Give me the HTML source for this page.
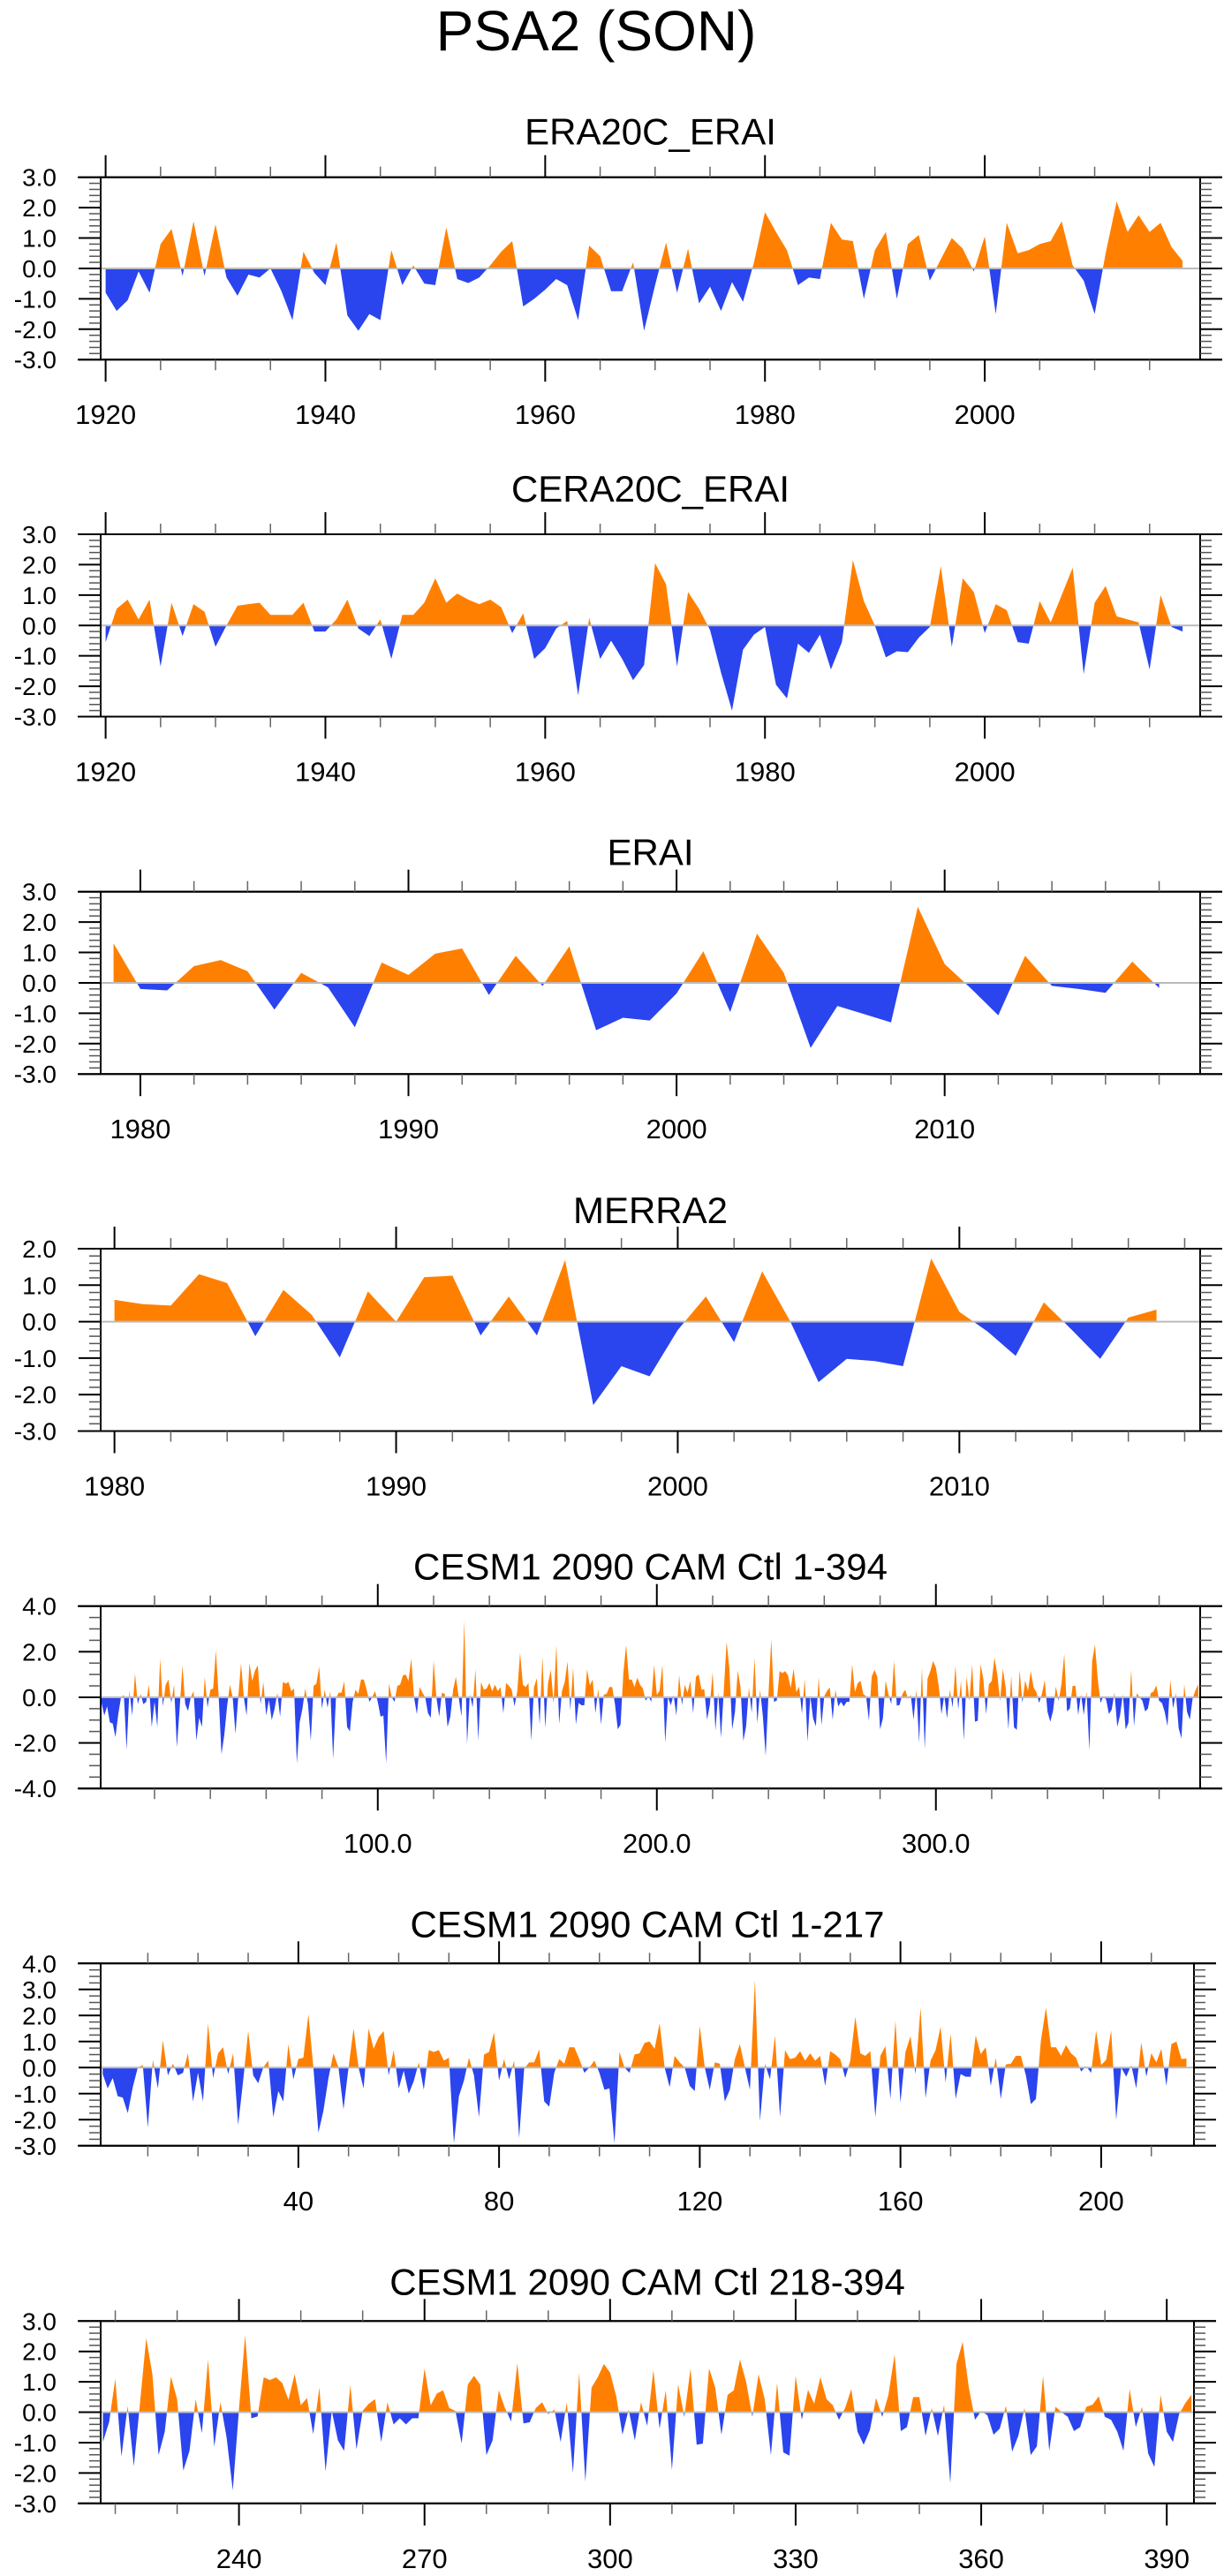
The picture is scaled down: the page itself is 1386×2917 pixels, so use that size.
<!DOCTYPE html>
<html><head><meta charset="utf-8"><title>PSA2 (SON)</title>
<style>
html,body{margin:0;padding:0;background:#fff;}
svg{display:block;font-family:"Liberation Sans",Arial,sans-serif;}
</style></head>
<body>
<svg id="chart" width="1386" height="2917" viewBox="0 0 1386 2917" xmlns="http://www.w3.org/2000/svg">
<text x="675" y="57" font-size="64" text-anchor="middle">PSA2 (SON)</text>
</svg>
<script>
// ---- data ----
const era20cYears = [];
for (let y = 1920; y <= 2018; y++) era20cYears.push(y);
const era20cValues = [-0.8,-1.4,-1.05,-0.1,-0.8,0.8,1.3,-0.25,1.55,-0.25,1.45,-0.3,-0.9,-0.2,-0.3,0.0,-0.75,-1.7,0.55,-0.15,-0.55,0.85,-1.55,-2.05,-1.5,-1.7,0.6,-0.55,0.1,-0.5,-0.55,1.35,-0.35,-0.48,-0.3,0.1,0.55,0.9,-1.25,-1.0,-0.7,-0.35,-0.55,-1.7,0.75,0.4,-0.75,-0.75,0.2,-2.05,-0.55,0.85,-0.8,0.65,-1.15,-0.6,-1.4,-0.45,-1.1,0.2,1.85,1.2,0.6,-0.55,-0.3,-0.35,1.5,0.95,0.9,-1.0,0.6,1.2,-1.0,0.8,1.1,-0.4,0.3,1.0,0.65,-0.1,1.05,-1.5,1.5,0.5,0.6,0.8,0.9,1.55,0.1,-0.4,-1.5,0.5,2.2,1.2,1.75,1.2,1.5,0.7,0.25];
const cera20cValues = [-0.55,0.55,0.85,0.2,0.85,-1.35,0.75,-0.35,0.7,0.45,-0.7,0.0,0.65,0.7,0.75,0.35,0.35,0.35,0.75,-0.2,-0.2,0.2,0.85,-0.1,-0.35,0.2,-1.1,0.35,0.35,0.75,1.55,0.75,1.05,0.85,0.7,0.85,0.6,-0.25,0.4,-1.1,-0.75,-0.1,0.15,-2.3,0.25,-1.1,-0.5,-1.1,-1.8,-1.3,2.05,1.35,-1.35,1.1,0.55,-0.15,-1.55,-2.8,-0.8,-0.3,-0.05,-1.95,-2.4,-0.6,-0.9,-0.3,-1.45,-0.55,2.15,0.8,0.0,-1.05,-0.85,-0.88,-0.4,-0.05,1.95,-0.7,1.55,1.1,-0.25,0.7,0.5,-0.55,-0.6,0.8,0.1,1.0,1.9,-1.6,0.75,1.3,0.3,0.2,0.1,-1.45,1.0,-0.05,-0.2];
const eraiYears = [];
for (let y = 1979; y <= 2018; y++) eraiYears.push(y);
const eraiValues = [1.3,-0.2,-0.25,0.55,0.75,0.38,-0.88,0.33,-0.15,-1.46,0.67,0.26,0.96,1.13,-0.4,0.89,-0.1,1.2,-1.56,-1.15,-1.24,-0.35,1.04,-0.96,1.62,0.33,-2.14,-0.76,-1.03,-1.3,2.5,0.62,-0.2,-1.07,0.89,-0.1,-0.2,-0.33,0.7,-0.17];
const merraYears = [];
for (let y = 1980; y <= 2017; y++) merraYears.push(y);
const merraValues = [0.6,0.48,0.44,1.3,1.06,-0.4,0.87,0.19,-0.98,0.83,0.0,1.22,1.26,-0.38,0.69,-0.38,1.69,-2.29,-1.22,-1.5,-0.23,0.69,-0.56,1.38,0.0,-1.66,-1.02,-1.08,-1.22,1.73,0.27,-0.27,-0.94,0.53,-0.23,-1.02,0.11,0.33];
const cesmValues = [
-0.25,-0.8,-0.4,-1.1,-1.15,-1.75,-0.75,0,0.1,-2.3,
0.3,-0.8,1.05,-0.3,0.15,-0.3,-0.2,0.55,-1.3,-0.2,
-1.3,1.7,-0.4,0.55,0.78,-0.25,0.55,-2.2,-0.5,1.4,
-0.3,-0.6,0,0.27,-1.9,-0.9,-1.3,0.9,-0.45,0.33,
0.38,2.05,0,-2.5,-1.65,-0.4,0.55,0,-1.6,0,
1.5,0,-0.8,1.5,0.72,1.17,1.4,-0.3,0.67,-0.8,
-0.12,-1.0,-0.52,0.2,-0.85,0.67,0.6,0.67,0.27,0.38,
-2.9,-1.1,-0.5,0.38,-0.3,-1.9,0.5,0.6,1.35,-0.5,
0.33,-0.45,0.27,-2.7,-0.05,0.2,0.2,0.7,-1.3,-1.5,
-0.2,0.33,0.15,0.78,0.78,0.33,-0.2,0,0.27,-0.2,
-0.85,-0.8,-2.9,0.6,0,-0.2,0.5,0.55,0.95,1.0,
0.72,1.7,0,-0.75,0.45,0.2,0,-0.7,-0.9,1.6,
0,-0.85,0.2,0.15,-1.3,-0.85,0.33,0.9,0,-0.85,
3.37,-2.05,0.15,-0.45,1.23,-1.9,0.67,0.33,0.38,0.63,
0.27,0.55,0.27,0.45,-0.7,0.63,0.5,0.33,-0.4,0.27,
1.95,0.55,0.45,0.63,-1.9,0.45,0.83,-1.2,1.8,-1.35,
0.6,1.2,-0.25,2.3,-1.17,0.27,0.67,1.57,-0.57,1.3,
-1.2,-0.25,-0.35,-0.35,1.23,0.52,0.78,-0.7,0.38,-1.2,
0.12,0.15,0.45,0.45,-0.3,-1.4,-1.2,1.05,2.3,0.78,
0.78,0.45,0.86,0.55,0.38,-0.15,0.05,-0.2,1.42,0.1,
0.3,1.42,-2.0,0,-0.35,0.1,-0.8,0.97,-0.35,0.55,
0.2,0.72,-0.7,0.9,1.0,0.33,0.35,
-0.98,-0.33,1.1,-1.46,0.21,-1.78,0.3,2.44,1.25,-1.41,
-0.64,1.17,0.43,-1.92,-1.27,0.43,-0.69,1.73,-1.14,0.33,
-0.83,-2.57,0.1,2.54,-0.2,-0.14,1.15,1.06,1.15,0.96,
0.41,1.25,0.23,0.47,-0.72,0.81,-1.95,0.05,-0.93,-1.27,
0.89,-1.22,0.05,0.28,0.43,-0.98,0.33,-0.4,-0.2,-0.4,
-0.2,-0.2,1.44,0.23,0.62,0.72,0.14,0.04,-1.03,0.91,
1.2,0.91,-1.41,-0.93,0.72,0.14,-0.3,1.61,-0.37,-0.33,
0.14,0.33,-0.06,0.09,-0.98,0.33,-2.0,1.3,-2.28,0.81,
1.15,1.59,1.3,0.52,-0.74,0.09,-0.93,0.33,-0.45,1.39,
-0.54,0.72,-1.9,0.91,-0.15,1.44,-1.07,-1.03,1.44,0.81,
-0.74,0.57,0.72,1.73,1.0,-0.15,1.25,0.43,-1.41,0.96,
-1.32,-1.43,1.2,-0.25,0.74,0.28,1.15,0.43,0.23,-0.25,
0.14,0.76,-0.64,-1.07,-0.59,0.47,-0.15,0.57,1.9,-0.62,
-0.49,0.5,0.5,-0.78,0.14,-0.78,0.25,-2.33,1.59,2.31,
0.81,-0.25,0.04,-0.1,-0.74,-0.54,0.21,-1.3,-0.78,0.14,
-1.41,-1.12,1.2,-1.27,0.18,0,-0.15,-0.62,-0.49,0.18,
0.25,0.52,-0.15,-0.25,-0.64,-1.27,0.76,-0.49,0.18,-1.36,
-1.8,0.57,-0.64,-0.98,-0.06,0.3,0.57];
const cesmIndex = cesmValues.map((v, i) => i + 1);
const cesmA = cesmValues.slice(0, 217), cesmAIdx = cesmIndex.slice(0, 217);
const cesmB = cesmValues.slice(217), cesmBIdx = cesmIndex.slice(217);

const yTicks3 = ["3.0","2.0","1.0","0.0","-1.0","-2.0","-3.0"];
const yTicksM = ["2.0","1.0","0.0","-1.0","-2.0","-3.0"];
const yTicks5 = ["4.0","2.0","0.0","-2.0","-4.0"];
const yTicks6 = ["4.0","3.0","2.0","1.0","0.0","-1.0","-2.0","-3.0"];

const NS = "http://www.w3.org/2000/svg";
const svg = document.getElementById('chart');
function mk(tag, attrs, parent) {
  const e = document.createElementNS(NS, tag);
  for (const k in attrs) e.setAttribute(k, attrs[k]);
  (parent || svg).appendChild(e);
  return e;
}
const ORANGE = "#ff8000", BLUE = "#2a44ee";

function panel(p) {
  const g = mk('g', {});
  
  
  const L = 114, R = p.right, T = p.top, B = p.top + 206.5;
  const xs = v => L + (v - p.xmin) / (p.xmax - p.xmin) * (R - L);
  const ys = v => T + (p.ymax - v) / (p.ymax - p.ymin) * (B - T);
  const id = p.name;
  // clips
  const defs = mk('defs', {}, g);
  const c1 = mk('clipPath', {id: id + '-pos'}, defs);
  mk('rect', {x: L, y: T, width: R - L, height: ys(0) - T}, c1);
  const c2 = mk('clipPath', {id: id + '-neg'}, defs);
  mk('rect', {x: L, y: ys(0), width: R - L, height: B - ys(0)}, c2);
  let pts = xs(p.x[0]) + ',' + ys(0) + ' ';
  for (let i = 0; i < p.x.length; i++) pts += xs(p.x[i]).toFixed(2) + ',' + ys(p.y[i]).toFixed(2) + ' ';
  pts += xs(p.x[p.x.length - 1]) + ',' + ys(0);
  const pos = mk('polygon', {points: pts, fill: ORANGE, 'clip-path': 'url(#' + id + '-pos)'}, g);
  
  
  const neg = mk('polygon', {points: pts, fill: BLUE, 'clip-path': 'url(#' + id + '-neg)'}, g);
  
  
  // zero line
  const z = mk('line', {x1: L, x2: R, y1: ys(0), y2: ys(0), stroke: '#bbbbbb', 'stroke-width': 2}, g);
  
  
  // frame
  const fr = mk('rect', {x: L, y: T, width: R - L, height: B - T, fill: 'none', stroke: '#000', 'stroke-width': 2}, g);
  
  
  mk('line', {x1: 88, x2: R + 25, y1: T, y2: T, stroke: '#000', 'stroke-width': 2}, g);
  mk('line', {x1: 88, x2: R + 25, y1: B, y2: B, stroke: '#000', 'stroke-width': 2}, g);
  // y ticks
  for (let v = p.ymin; v <= p.ymax + 1e-6; v += p.yminor) {
    const yy = ys(v);
    const major = Math.abs(v / p.ymajor - Math.round(v / p.ymajor)) < 1e-6;
    const len = major ? 25 : 13;
    mk('line', {x1: L - len, x2: L, y1: yy, y2: yy, stroke: major ? '#000' : '#555', 'stroke-width': major ? 2 : 1.5}, g);
    mk('line', {x1: R, x2: R + len, y1: yy, y2: yy, stroke: major ? '#000' : '#555', 'stroke-width': major ? 2 : 1.5}, g);
  }
  p.ylabels.forEach((s, i) => {
    const v = p.ymax - i * p.ymajor;
    const t = mk('text', {x: 64, y: ys(v) + 10, 'font-size': 28, 'text-anchor': 'end'}, g);
    
    
    t.textContent = s;
  });
  // x ticks
  const start = Math.ceil(p.xmin / p.xminor) * p.xminor;
  for (let v = start; v <= p.xmax; v += p.xminor) {
    const xx = xs(v);
    const major = Math.abs(v / p.xmajor - Math.round(v / p.xmajor)) < 1e-6;
    const len = major ? 25 : 12;
    mk('line', {x1: xx, x2: xx, y1: T - len, y2: T, stroke: major ? '#000' : '#666', 'stroke-width': major ? 2 : 1.5}, g);
    mk('line', {x1: xx, x2: xx, y1: B, y2: B + len, stroke: major ? '#000' : '#666', 'stroke-width': major ? 2 : 1.5}, g);
    if (major) {
      const t = mk('text', {x: xx, y: B + 73, 'font-size': 31, 'text-anchor': 'middle'}, g);
      
      
      t.textContent = p.xfmt ? p.xfmt(v) : String(v);
    }
  }
  const tt = mk('text', {x: (L + R) / 2, y: T - p.titleGap, 'font-size': 42, 'text-anchor': 'middle'}, g);
  
  
  tt.textContent = p.title;
}

panel({name:'era20c-erai-panel', title:'ERA20C_ERAI', top:200.7, right:1359, titleGap:37, xmin:1919.55, xmax:2019.6, ymin:-3, ymax:3, ymajor:1, yminor:0.2, xmajor:20, xminor:5, x:era20cYears, y:era20cValues, ylabels:yTicks3});
panel({name:'cera20c-erai-panel', title:'CERA20C_ERAI', top:605, right:1359, titleGap:37, xmin:1919.55, xmax:2019.6, ymin:-3, ymax:3, ymajor:1, yminor:0.2, xmajor:20, xminor:5, x:era20cYears, y:cera20cValues, ylabels:yTicks3});
panel({name:'erai-panel', title:'ERAI', top:1009.7, right:1359, titleGap:30, xmin:1978.52, xmax:2019.53, ymin:-3, ymax:3, ymajor:1, yminor:0.2, xmajor:10, xminor:2, x:eraiYears, y:eraiValues, ylabels:yTicks3});
panel({name:'merra2-panel', title:'MERRA2', top:1414, right:1359, titleGap:29, xmin:1979.51, xmax:2018.55, ymin:-3, ymax:2, ymajor:1, yminor:0.2, xmajor:10, xminor:2, x:merraYears, y:merraValues, ylabels:yTicksM});
panel({name:'cesm-1-394-panel', title:'CESM1 2090 CAM Ctl 1-394', top:1818.7, right:1359, titleGap:30, xmin:0.7, xmax:394.7, ymin:-4, ymax:4, ymajor:2, yminor:0.5, xmajor:100, xminor:20, x:cesmIndex, y:cesmValues, ylabels:yTicks5, xfmt:v=>v.toFixed(1)});
panel({name:'cesm-1-217-panel', title:'CESM1 2090 CAM Ctl 1-217', top:2223.3, right:1352, titleGap:30, xmin:0.6, xmax:218.5, ymin:-3, ymax:4, ymajor:1, yminor:0.25, xmajor:40, xminor:10, x:cesmAIdx, y:cesmA, ylabels:yTicks6});
panel({name:'cesm-218-394-panel', title:'CESM1 2090 CAM Ctl 218-394', top:2628.3, right:1352, titleGap:30, xmin:217.64, xmax:394.4, ymin:-3, ymax:3, ymajor:1, yminor:0.2, xmajor:30, xminor:10, x:cesmBIdx, y:cesmB, ylabels:yTicks3});
</script>
</body></html>
